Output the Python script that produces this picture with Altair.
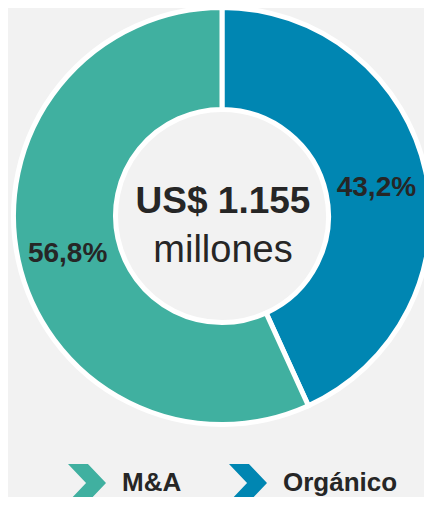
import altair as alt
import pandas as pd

categorias = ["Orgánico", "M&A"]
valores = [43.2, 56.8]
etiquetas = ["43,2%", "56,8%"]
orden = [0, 1]
dominio_leyenda = ["M&A", "Orgánico"]
colores_leyenda = ["#40B0A0", "#0086B2"]
titulo = ["US$ 1.155"]
subtitulo = ["millones"]

FONT = "Liberation Sans"
TXT = "#262626"

df = pd.DataFrame({"categoria": categorias, "valor": valores,
                   "etiqueta": etiquetas, "orden": orden})

chevron = "M-1,-1L0.05,-1L1,0L0.05,1L-1,1L-0.05,0Z"

base = alt.Chart(df).encode(
    theta=alt.Theta("valor:Q", stack=True),
    order=alt.Order("orden:Q"),
)

color = alt.Color(
    "categoria:N",
    scale=alt.Scale(domain=dominio_leyenda, range=colores_leyenda),
    legend=alt.Legend(
        orient="none", legendX=60, legendY=456, direction="horizontal",
        title=None, symbolType=chevron, symbolSize=1444, symbolStrokeWidth=0,
        symbolOpacity=1, labelFont=FONT, labelFontSize=26, labelFontWeight="bold",
        labelColor=TXT, labelOffset=16, columnPadding=47, padding=0,
    ),
)

arcs = base.mark_arc(innerRadius=106.5, outerRadius=208.5, stroke="white",
                     strokeWidth=5, xOffset=6).encode(color=color)

labels = base.mark_text(radius=158, dx=6, dy=5, font=FONT, fontSize=28,
                        fontWeight="bold", color=TXT).encode(text="etiqueta:N")

centro1 = alt.Chart(pd.DataFrame({"t": titulo})).mark_text(
    font=FONT, fontSize=37, fontWeight="bold", color=TXT,
    baseline="alphabetic", dx=7, dy=-3).encode(text="t:N")

centro2 = alt.Chart(pd.DataFrame({"t": subtitulo})).mark_text(
    font=FONT, fontSize=38, color=TXT,
    baseline="alphabetic", dx=7, dy=45.5).encode(text="t:N")

chart = alt.layer(arcs, labels, centro1, centro2).properties(
    width=416, height=416,
    padding={"left": 0, "right": 0, "top": 0, "bottom": 73},
    autosize="none",
    background="#f2f2f2",
).configure_view(stroke=None)

chart.save("out.html", embed_options={"renderer": "svg", "actions": False})
